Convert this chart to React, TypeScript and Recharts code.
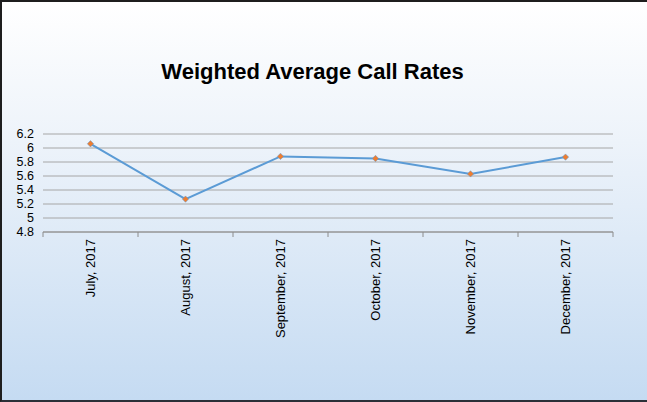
import React from "react";
import { LineChart, Line, XAxis, YAxis, CartesianGrid } from "recharts";

const months = ["July, 2017", "August, 2017", "September, 2017", "October, 2017", "November, 2017", "December, 2017"];
const rates = [6.06, 5.27, 5.88, 5.85, 5.63, 5.87];
const yTicks = [4.8, 5, 5.2, 5.4, 5.6, 5.8, 6, 6.2];
const title = "Weighted Average Call Rates";

const data = months.map((m, i) => ({ month: m, rate: rates[i] }));

const FONT = "'Liberation Sans', Arial, sans-serif";
const BAND = 95;

const XTick = (props: any) => {
  const { x, y, payload, index } = props;
  const last = index === months.length - 1;
  return (
    <g>
      <line x1={x - BAND / 2} y1={y - 6} x2={x - BAND / 2} y2={y - 1} stroke="#8c8c8c" />
      {last && <line x1={x + BAND / 2} y1={y - 6} x2={x + BAND / 2} y2={y - 1} stroke="#8c8c8c" />}
      <text
        x={0}
        y={0}
        transform={`translate(${x + 4.5},${y + 1}) rotate(-90)`}
        textAnchor="end"
        fontSize={13}
        fontFamily={FONT}
        fill="#000"
      >
        {payload.value}
      </text>
    </g>
  );
};

const Diamond = (props: any) => {
  const { cx, cy } = props;
  const r = 3.2;
  return (
    <path
      d={`M${cx},${cy - r} L${cx + r},${cy} L${cx},${cy + r} L${cx - r},${cy} Z`}
      fill="#ed7d31"
      stroke="#5b9bd5"
      strokeWidth={0.5}
    />
  );
};

export default function App() {
  return (
    <div
      style={{
        position: "absolute",
        left: 0,
        top: 0,
        width: 647,
        height: 402,
        boxSizing: "border-box",
        borderTop: "2px solid #1e1e1e",
        borderBottom: "2px solid #2b3038",
        borderLeft: "2px solid #1e1e1e",
        background: "linear-gradient(to bottom, #ffffff 0%, #edf3fa 35%, #c5dbf2 100%)",
        overflow: "hidden",
      }}
    >
      <div
        style={{
          position: "absolute",
          left: 0,
          width: 621,
          top: 57,
          textAlign: "center",
          fontFamily: FONT,
          fontWeight: "bold",
          fontSize: 22,
          color: "#000",
        }}
      >
        {title}
      </div>
      <div style={{ position: "absolute", left: -2, top: -2 }}>
        <LineChart width={647} height={402} data={data} margin={{ top: 134, right: 34, bottom: 70, left: 3 }}>
          <CartesianGrid vertical={false} stroke="#a6a6a6" />
          <XAxis
            dataKey="month"
            interval={0}
            tickLine={false}
            axisLine={{ stroke: "#8c8c8c" }}
            height={100}
            tick={<XTick />}
            tickMargin={0}
            padding={{ left: BAND / 2, right: BAND / 2 }}
          />
          <YAxis
            domain={[4.8, 6.2]}
            ticks={yTicks}
            interval={0}
            width={40}
            axisLine={false}
            tickLine={false}
            tick={{ fontSize: 12.5, fontFamily: FONT, fill: "#000" }}
            tickMargin={3}
          />
          <Line
            type="linear"
            dataKey="rate"
            stroke="#5b9bd5"
            strokeWidth={2}
            dot={<Diamond />}
            activeDot={false}
            isAnimationActive={false}
          />
        </LineChart>
      </div>
    </div>
  );
}
